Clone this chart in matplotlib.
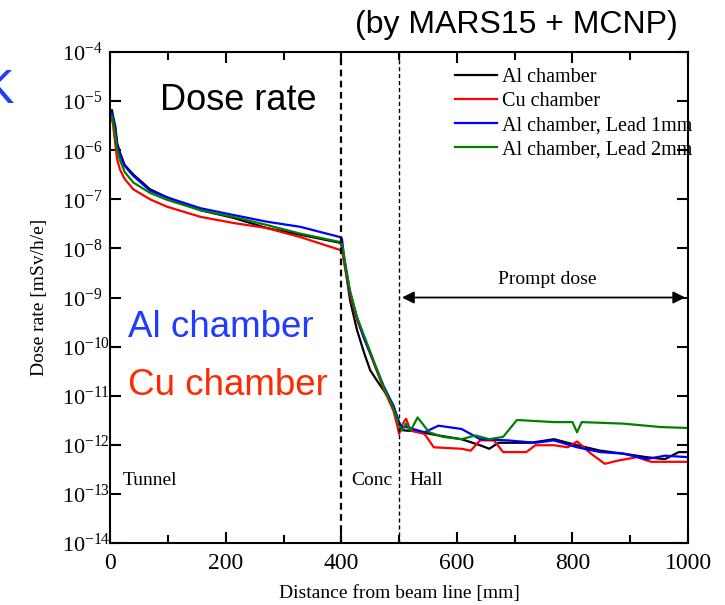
import numpy as np
import matplotlib
matplotlib.use("Agg")
import matplotlib.pyplot as plt
from matplotlib.ticker import MultipleLocator, LogLocator, NullLocator

plt.rcParams['font.family'] = 'Liberation Serif'
plt.rcParams['mathtext.fontset'] = 'custom'
plt.rcParams['mathtext.rm'] = 'Liberation Serif'
plt.rcParams['axes.unicode_minus'] = False

# Al chamber (black)
x_al = [1, 3, 5, 9, 12, 17, 25, 40, 69, 98, 156, 213, 271, 329, 398,
        401, 407, 415, 427, 440, 450, 462, 473, 490, 500, 505,
        512, 528, 568, 608, 640, 656, 672, 728, 768, 808, 848, 888, 928, 960, 984, 1000]
y_al = [5.5e-6, 6.6e-6, 4.9e-6, 3.0e-6, 1.4e-6, 8.9e-7, 5.0e-7, 3.2e-7, 1.6e-7, 1.1e-7, 6.0e-8, 4.2e-8,
        2.6e-8, 1.9e-8, 1.3e-8,
        1.1e-8, 4.0e-9, 8.9e-10, 2.2e-10, 7.1e-11, 3.3e-11, 2.0e-11, 1.3e-11, 6.3e-12, 2.8e-12, 2.0e-12,
        1.95e-12, 1.9e-12, 1.55e-12, 1.3e-12, 9.8e-13, 8.3e-13, 1.1e-12, 1.1e-12, 1.3e-12, 9.8e-13,
        7.6e-13, 6.6e-13, 5.6e-13, 5.1e-13, 7.1e-13, 7.1e-13]

# Cu chamber (red)
x_cu = [1, 3, 5, 9, 12, 17, 25, 40, 69, 98, 156, 213, 271, 329, 398,
        402, 408, 415, 427, 450, 473, 490, 496, 500, 505, 512, 520,
        544, 560, 608, 624, 640, 664, 680, 720, 736, 768, 792, 808, 832, 856, 880, 912, 936, 960, 1000]
y_cu = [4.0e-6, 4.8e-6, 3.2e-6, 1.26e-6, 6.5e-7, 4.0e-7, 2.6e-7, 1.6e-7, 1.0e-7, 7.1e-8, 4.4e-8, 3.3e-8,
        2.6e-8, 1.7e-8, 9.3e-9,
        7.9e-9, 3.2e-9, 1.1e-9, 3.5e-10, 7.1e-11, 1.4e-11, 5.0e-12, 2.7e-12, 1.66e-12, 2.5e-12, 3.4e-12, 1.95e-12,
        1.66e-12, 8.9e-13, 8.3e-13, 7.6e-13, 1.23e-12, 1.23e-12, 7.1e-13, 7.1e-13, 9.8e-13, 9.8e-13,
        8.9e-13, 1.17e-12, 6.6e-13, 4.1e-13, 4.8e-13, 5.6e-13, 4.5e-13, 4.5e-13, 4.5e-13]

# Al chamber, Lead 1mm (blue)
x_pb1 = [1, 3, 5, 9, 12, 17, 25, 40, 69, 98, 156, 213, 271, 329, 398,
         401, 405, 415, 427, 440, 450, 473, 490, 500, 505,
         512, 544, 568, 608, 624, 640, 688, 736, 768, 808, 848, 888, 928, 960, 1000]
y_pb1 = [5.0e-6, 5.8e-6, 4.5e-6, 2.5e-6, 1.2e-6, 7.9e-7, 4.8e-7, 3.0e-7, 1.5e-7, 1.1e-7, 6.6e-8, 4.8e-8,
         3.5e-8, 2.75e-8, 1.7e-8,
         1.6e-8, 6.3e-9, 1.26e-9, 4.0e-10, 1.4e-10, 7.4e-11, 1.6e-11, 6.3e-12, 2.8e-12, 2.3e-12,
         2.3e-12, 1.8e-12, 2.45e-12, 2.1e-12, 1.66e-12, 1.3e-12, 1.23e-12, 1.1e-12, 1.23e-12,
         8.9e-13, 7.1e-13, 6.6e-13, 5.1e-13, 6.0e-13, 5.6e-13]

# Al chamber, Lead 2mm (green)
x_pb2 = [1, 3, 5, 9, 12, 17, 25, 40, 69, 98, 156, 213, 271, 329, 398,
         402, 408, 415, 427, 450, 473, 490, 500, 505,
         512, 520, 532, 552, 576, 608, 632, 656, 680, 704, 768, 800, 808, 816, 888, 952, 1000]
y_pb2 = [4.3e-6, 5.0e-6, 3.8e-6, 2.0e-6, 1.0e-6, 6.3e-7, 3.6e-7, 2.2e-7, 1.35e-7, 9.8e-8, 6.0e-8, 4.4e-8,
         3.0e-8, 2.0e-8, 1.35e-8,
         1.1e-8, 4.0e-9, 1.4e-9, 4.0e-10, 7.9e-11, 1.5e-11, 5.6e-12, 2.5e-12, 1.95e-12,
         2.7e-12, 1.95e-12, 3.6e-12, 1.8e-12, 1.45e-12, 1.3e-12, 1.55e-12, 1.3e-12, 1.45e-12,
         3.2e-12, 2.9e-12, 2.9e-12, 1.8e-12, 2.9e-12, 2.7e-12, 2.3e-12, 2.2e-12]

series_labels = ["Al chamber", "Cu chamber", "Al chamber, Lead 1mm", "Al chamber, Lead 2mm"]
series_colors = ["black", "#ff0000", "#0000ff", "#008000"]

fig = plt.figure(figsize=(7.25, 6.05), dpi=100)
ax = fig.add_axes([0.152, 0.1025, 0.797, 0.8115])

for xs, ys, lab, col in zip([x_al, x_cu, x_pb1, x_pb2], [y_al, y_cu, y_pb1, y_pb2],
                            series_labels, series_colors):
    ax.plot(xs, ys, color=col, lw=1.6, label=lab)

ax.set_yscale('log')
ax.set_xlim(0, 1000)
ax.set_ylim(1e-14, 1e-4)
ax.xaxis.set_major_locator(MultipleLocator(200))
ax.xaxis.set_minor_locator(MultipleLocator(100))
ax.yaxis.set_major_locator(LogLocator(base=10, numticks=20))
ax.yaxis.set_minor_locator(NullLocator())
ax.tick_params(which='both', direction='in', top=True, right=True, width=1.5)
ax.tick_params(which='major', length=8)
ax.tick_params(which='minor', length=6)
# y tick labels are left-aligned in the original
ax.tick_params(axis='y', pad=35, labelsize=16)
for lbl in ax.get_yticklabels():
    lbl.set_horizontalalignment('left')
ax.tick_params(axis='x', pad=7, labelsize=17)
for s in ax.spines.values():
    s.set_linewidth(1.5)

ax.axvline(400, color='black', ls=(0, (3, 2)), lw=1.6)
ax.axvline(500, color='black', ls=(0, (3, 2)), lw=1.0)

ax.annotate('', xy=(500, 1e-9), xytext=(1000, 1e-9),
            arrowprops=dict(arrowstyle='<|-|>', color='black', lw=1.3, mutation_scale=18))
ax.text(756, 2.3e-9, 'Prompt dose', ha='center', va='center', fontsize=14)
ax.text(22, 1.9e-13, 'Tunnel', ha='left', va='center', fontsize=14)
ax.text(417, 1.9e-13, 'Conc', ha='left', va='center', fontsize=14)
ax.text(517, 1.9e-13, 'Hall', ha='left', va='center', fontsize=14)

ax.set_xlabel('Distance from beam line [mm]', fontsize=14, labelpad=8)
ax.set_ylabel('Dose rate [mSv/h/e]', fontsize=14, labelpad=10)

ax.legend(loc='upper left', bbox_to_anchor=(455 / 725, 1 - 68 / 605), bbox_transform=fig.transFigure,
          frameon=False, fontsize=14.5, handlelength=2.1, handletextpad=0.25,
          labelspacing=0.25, borderpad=0, borderaxespad=0)

sans = 'Liberation Sans'
fig.text(355 / 725, 1 - 33 / 605, '(by MARS15 + MCNP)', family=sans, fontsize=23, ha='left', va='baseline')
fig.text(160 / 725, 1 - 110 / 605, 'Dose rate', family=sans, fontsize=26, ha='left', va='baseline')
fig.text(128 / 725, 1 - 337 / 605, 'Al chamber', family=sans, fontsize=26.5, color='#1f3cff',
         ha='left', va='baseline')
fig.text(128 / 725, 1 - 395 / 605, 'Cu chamber', family=sans, fontsize=26.5, color='#ff2a00',
         ha='left', va='baseline')
fig.text(-18 / 725, 1 - 103 / 605, 'K', family=sans, fontsize=35, color='#1f3cff',
         ha='left', va='baseline')

fig.savefig('out.png', dpi=100)
